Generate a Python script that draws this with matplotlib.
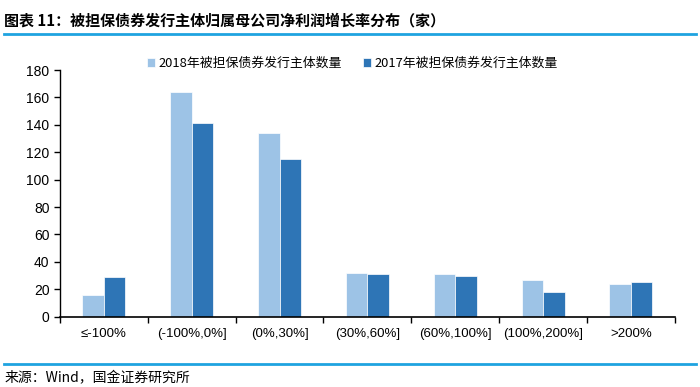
import matplotlib
matplotlib.use("Agg")
import matplotlib.pyplot as plt
import numpy as np
from matplotlib.lines import Line2D

plt.rcParams['font.family'] = ['Liberation Sans', 'Noto Sans CJK SC', 'DejaVu Sans']

categories = ['≤-100%', '(-100%,0%]', '(0%,30%]', '(30%,60%]', '(60%,100%]', '(100%,200%]', '>200%']
series_2018 = [16, 164, 134, 32, 31, 27, 24]
series_2017 = [29, 141, 115, 31, 30, 18, 25]
label_2018 = '2018年被担保债券发行主体数量'
label_2017 = '2017年被担保债券发行主体数量'
yticks = [0, 20, 40, 60, 80, 100, 120, 140, 160, 180]
title = '图表 11：被担保债券发行主体归属母公司净利润增长率分布（家）'
source = '来源：Wind，国金证券研究所'

c18 = '#9DC3E6'
c17 = '#2E75B6'

fig = plt.figure(figsize=(7, 3.87), dpi=100)
ax = fig.add_axes([0.0857, 0.1817, 0.8783, 0.6373])

x = np.arange(len(categories))
w = 0.245
ax.bar(x - w / 2, series_2018, w, color=c18, label=label_2018, edgecolor='white', linewidth=0.5)
ax.bar(x + w / 2, series_2017, w, color=c17, label=label_2017, edgecolor='white', linewidth=0.5)

ax.set_xlim(-0.5, len(categories) - 0.5)
ax.set_ylim(0, 180)
ax.set_yticks(yticks)
ax.set_xticks(x)
ax.set_xticklabels(categories, fontsize=9.5)
ax.tick_params(axis='x', length=0, pad=8)
ax.set_xticks(np.arange(len(categories) + 1) - 0.5, minor=True)
ax.tick_params(axis='x', which='minor', length=4, direction='out', width=1)
ax.tick_params(axis='y', labelsize=10, length=4, direction='out', width=1)
for s in ['top', 'right']:
    ax.spines[s].set_visible(False)
ax.spines['left'].set_linewidth(1)
ax.spines['bottom'].set_linewidth(1.2)

leg = ax.legend(loc='upper left', bbox_to_anchor=(0.123, 1.1), ncol=2, frameon=False,
                handlelength=0.6, handleheight=0.6, handletextpad=0.3, columnspacing=1.6,
                prop={'family': ['Noto Sans CJK SC'], 'size': 9.3})

fig.text(0.006, 0.948, title, fontsize=10.8, fontweight='bold', fontstyle='italic',
         family=['Noto Sans CJK SC', 'DejaVu Sans'], va='center', ha='left')
fig.add_artist(Line2D([0.006, 0.994], [0.913, 0.913], color='#1FA3E0', linewidth=2, transform=fig.transFigure))
fig.add_artist(Line2D([0.006, 0.994], [0.059, 0.059], color='#1FA3E0', linewidth=2, transform=fig.transFigure))
fig.text(0.006, 0.022, source, fontsize=10, family=['Noto Sans CJK SC', 'DejaVu Sans'], va='center', ha='left')

fig.savefig('out.png', dpi=100)
